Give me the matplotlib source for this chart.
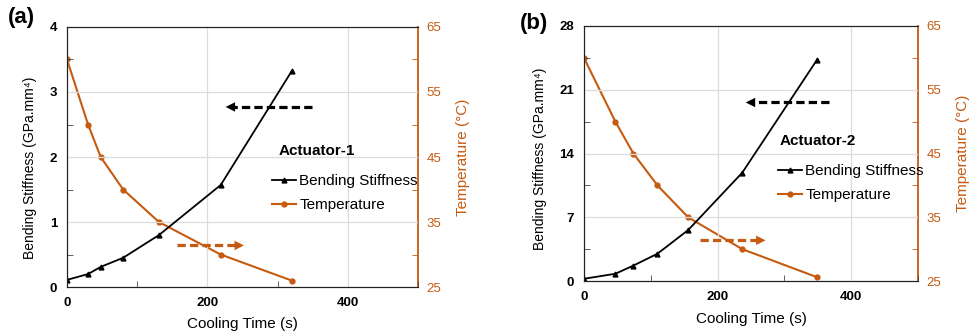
import matplotlib
matplotlib.use("Agg")
import matplotlib.pyplot as plt
from matplotlib.ticker import MultipleLocator

plt.rcParams['font.family'] = ['Liberation Sans', 'DejaVu Sans']

orange = "#C55A11"

# panel (a) data
time_a = [0, 30, 48, 80, 131, 219, 320]
stiff_a = [0.11, 0.20, 0.31, 0.45, 0.80, 1.57, 3.32]
temp_a = [60, 50, 45, 40, 35, 30, 26]

# panel (b) data
time_b = [0, 47, 74, 110, 156, 237, 349]
stiff_b = [0.25, 0.80, 1.70, 3.00, 5.60, 11.9, 24.3]
temp_b = [60, 50, 45, 40, 35, 30, 25.6]

temp_ticks = [25, 35, 45, 55, 65]

panels = [
    dict(tag="(a)", name="Actuator-1", t=time_a, s=stiff_a, T=temp_a,
         rect=[0.069, 0.138, 0.3615, 0.781], ymax=4, ystep=1, xpad=6, ylab_y=0.46,
         black_arrow=(349, 222, 2.77), orange_arrow=(156, 256, 0.64),
         title_xy=(302, 2.10), leg_xy=(264, 193), tag_xy=(8, 17)),
    dict(tag="(b)", name="Actuator-2", t=time_b, s=stiff_b, T=temp_b,
         rect=[0.6014, 0.156, 0.344, 0.766], ymax=28, ystep=7, xpad=7, ylab_y=0.48,
         black_arrow=(367, 238, 19.6), orange_arrow=(173, 276, 4.47),
         title_xy=(293, 15.4), leg_xy=(770, 183), tag_xy=(520, 23)),
]

fig = plt.figure(figsize=(9.71, 3.33), dpi=100)

for p in panels:
    ax = fig.add_axes(p["rect"])
    ax2 = ax.twinx()
    ax.set_zorder(ax2.get_zorder() + 1)
    ax.patch.set_visible(False)

    l1, = ax.plot(p["t"], p["s"], color="black", lw=1.3, marker="^", ms=3.5,
                  label="Bending Stiffness")
    l2, = ax2.plot(p["t"], p["T"], color=orange, lw=1.5, marker="o", ms=3.5,
                   label="Temperature")

    ax.set_xlim(0, 500)
    ax.set_ylim(0, p["ymax"])
    ax2.set_ylim(25, 65)
    ax.xaxis.set_major_locator(MultipleLocator(200))
    ax.xaxis.set_minor_locator(MultipleLocator(100))
    ax.yaxis.set_major_locator(MultipleLocator(p["ystep"]))
    ax.yaxis.set_minor_locator(MultipleLocator(p["ystep"] / 2))
    ax2.set_yticks(temp_ticks)
    ax2.yaxis.set_minor_locator(MultipleLocator(5))
    ax.grid(True, which="major", color="#dcdcdc", lw=0.9)
    ax.set_axisbelow(True)

    ax.tick_params(which="major", length=0, labelsize=9.5, pad=7)
    ax.tick_params(which="minor", direction="in", length=4, color="#444444")
    ax2.tick_params(which="major", length=0, labelsize=9.5, labelcolor=orange, pad=6)
    ax2.tick_params(which="minor", direction="in", length=4, color=orange)
    for lab in ax.get_xticklabels() + ax.get_yticklabels():
        lab.set_fontweight("bold")

    for sp in ["left", "bottom", "top"]:
        ax.spines[sp].set_color("#222222")
        ax2.spines[sp].set_color("#222222")
    ax2.spines["right"].set_color(orange)
    ax2.spines["right"].set_linewidth(1.3)
    ax.spines["right"].set_visible(False)

    ax.set_xlabel("Cooling Time (s)", fontsize=11, labelpad=p["xpad"])
    ax.set_ylabel("Bending Stiffness (GPa.mm\u2074)", fontsize=10, labelpad=9)
    ax.yaxis.label.set_y(p["ylab_y"])
    ax2.set_ylabel("Temperature (\u00b0C)", fontsize=11, color=orange, labelpad=11)

    # dashed arrows
    for (x0, x1, y), c in [(p["black_arrow"], "black"), (p["orange_arrow"], orange)]:
        d = 10 if x1 < x0 else -10
        ax.plot([x0, x1 + d], [y, y], color=c, lw=2.3, dashes=(2.6, 1.3))
        ax.annotate("", xy=(x1, y), xytext=(x1 + d + (2 if d > 0 else -2), y),
                    arrowprops=dict(arrowstyle="-|>", color=c, lw=0,
                                    mutation_scale=17))

    ax.text(p["title_xy"][0], p["title_xy"][1], p["name"], fontsize=11,
            fontweight="bold", va="center")
    ax.legend([l1, l2], ["Bending Stiffness", "Temperature"], frameon=False,
              fontsize=11, loc="center left", handlelength=1.6,
              handletextpad=0.2, labelspacing=0.65, borderpad=0,
              bbox_to_anchor=(p["leg_xy"][0] / 971, 1 - p["leg_xy"][1] / 333),
              bbox_transform=fig.transFigure)

    fig.text(p["tag_xy"][0] / 971, 1 - p["tag_xy"][1] / 333, p["tag"],
             fontsize=16, fontweight="bold", va="center")

fig.savefig("out.png", dpi=100)
